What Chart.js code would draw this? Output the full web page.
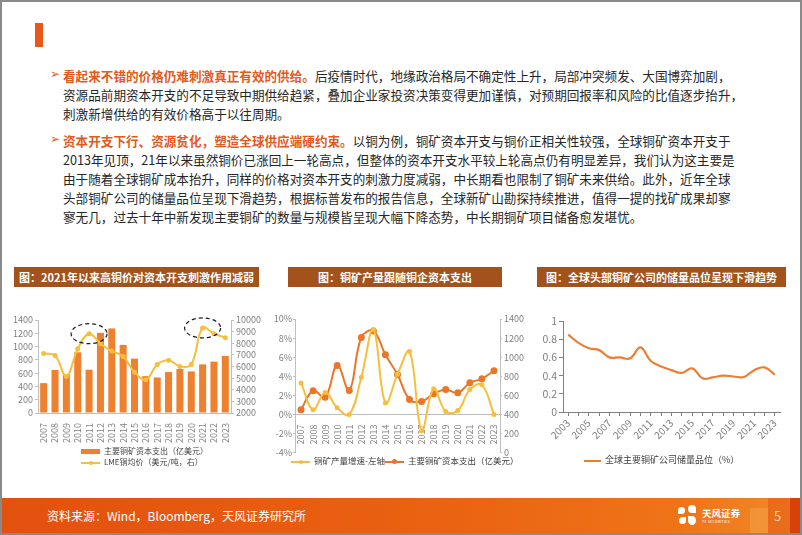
<!DOCTYPE html>
<html>
<head>
<meta charset="utf-8">
<script src="https://cdn.jsdelivr.net/npm/chart.js@4"></script>
<style>
  html, body { margin: 0; padding: 0; background: #fff; }
  body { width: 802px; height: 535px; position: relative; overflow: hidden;
         font-family: "Noto Sans CJK SC", "Noto Sans", sans-serif; }
  .frame { position: absolute; left: 0; top: 0; width: 798px; height: 531px; border: 2px solid #8a8a8a; }
  .accent { position: absolute; left: 35px; top: 23px; width: 8px; height: 24px; background: #E8581A; }
  .para { position: absolute; left: 63px; font-size: 12.6px; line-height: 19px; color: #262626; white-space: nowrap; }
  .para b { color: #E25A1C; font-weight: 700; }
  .bullet { position: absolute; left: -13px; top: -1px; color: #E8601C; font-size: 12px; font-family: "DejaVu Sans", sans-serif; }
  .tbar { position: absolute; top: 267px; height: 20px; background: #A2521A; color: #fff;
          font-size: 11px; font-weight: 700; line-height: 20px; text-align: center; }
  canvas { position: absolute; }
  .lg { position: absolute; font-size: 8px; color: #404040; white-space: nowrap; line-height: 11px; }
  .lg i { display: inline-block; vertical-align: middle; position: relative; margin-right: 4px; }
  .footer { position: absolute; left: 2px; top: 498px; width: 798px; height: 35px;
            background: linear-gradient(90deg, #E4500E 0%, #EA6212 55%, #EF7418 85%, #F08A2A 100%); }
  .src { position: absolute; left: 45px; top: 9px; font-size: 12px; color: #fff; }
  .logo { position: absolute; left: 700px; top: 8px; color: #fff; font-size: 9.5px; font-weight: 700; }
  .logo small { display: block; font-size: 3.5px; font-weight: 400; letter-spacing: 0.3px; margin-top: -1px; }
  .flower { position: absolute; left: 676px; top: 7px; width: 20px; height: 22px; }
  .flower span { position: absolute; background: #fff; border-radius: 50% 50% 50% 0; }
  .sq1 { position: absolute; left: 748px; top: 10px; width: 18px; height: 25px; background: #F29A3E; opacity: .7; }
  .sq2 { position: absolute; left: 766px; top: 0; width: 22px; height: 35px; background: #E4520E; opacity: .5; }
  .sq3 { position: absolute; left: 788px; top: 0; width: 10px; height: 35px; background: #D8420A; }
  .pg { position: absolute; left: 772px; top: 8px; font-size: 13px; color: #FBD3A8; }
</style>
</head>
<body>
<div class="frame"></div>
<div class="accent"></div>

<div class="para" style="top:66px">
  <span class="bullet">&#x27A2;</span><b>看起来不错的价格仍难刺激真正有效的供给。</b>后疫情时代，地缘政治格局不确定性上升，局部冲突频发、大国博弈加剧，<br>
  资源品前期资本开支的不足导致中期供给趋紧，叠加企业家投资决策变得更加谨慎，对预期回报率和风险的比值逐步抬升，<br>
  刺激新增供给的有效价格高于以往周期。
</div>
<div class="para" style="top:131px">
  <span class="bullet">&#x27A2;</span><b>资本开支下行、资源贫化，塑造全球供应端硬约束。</b>以铜为例，铜矿资本开支与铜价正相关性较强，全球铜矿资本开支于<br>
  2013年见顶，21年以来虽然铜价已涨回上一轮高点，但整体的资本开支水平较上轮高点仍有明显差异，我们认为这主要是<br>
  由于随着全球铜矿成本抬升，同样的价格对资本开支的刺激力度减弱，中长期看也限制了铜矿未来供给。此外，近年全球<br>
  头部铜矿公司的储量品位呈现下滑趋势，根据标普发布的报告信息，全球新矿山勘探持续推进，值得一提的找矿成果却寥<br>
  寥无几，过去十年中新发现主要铜矿的数量与规模皆呈现大幅下降态势，中长期铜矿项目储备愈发堪忧。
</div>

<div class="tbar" style="left:14px;width:245px">图：2021年以来高铜价对资本开支刺激作用减弱</div>
<div class="tbar" style="left:288px;width:214px">图：铜矿产量跟随铜企资本支出</div>
<div class="tbar" style="left:537px;width:249px">图：全球头部铜矿公司的储量品位呈现下滑趋势</div>

<canvas id="c1" width="262" height="135" style="left:10px;top:312px"></canvas>
<canvas id="c2" width="254" height="150" style="left:274px;top:310px"></canvas>
<canvas id="c3" width="250" height="135" style="left:540px;top:312px"></canvas>

<div class="lg" style="left:81px;top:445px"><i style="width:19px;height:5px;background:#EE8130"></i>主要铜矿资本支出（亿美元）</div>
<div class="lg" style="left:81px;top:456px"><i style="width:19px;height:2px;background:#F7BE3C"><i style="position:absolute;left:8px;top:-1px;width:4px;height:4px;border-radius:50%;background:#F7BE3C;margin:0"></i></i>LME铜均价（美元/吨，右）</div>

<div class="lg" style="left:291px;top:455px;font-size:8.5px"><i style="width:19px;height:2px;background:#F7BE3C"><i style="position:absolute;left:8px;top:-1px;width:4px;height:4px;border-radius:50%;background:#F7BE3C;margin:0"></i></i>铜矿产量增速-左轴</div>
<div class="lg" style="left:385px;top:455px;font-size:8.5px"><i style="width:19px;height:2px;background:#E9762B"><i style="position:absolute;left:7px;top:-2px;width:5px;height:5px;border-radius:50%;background:#E9762B;margin:0"></i></i>主要铜矿资本支出（亿美元）</div>

<div class="lg" style="left:584px;top:454px;font-size:9px"><i style="width:17px;height:2px;background:#ED7D31"></i>全球主要铜矿公司储量品位（%）</div>

<div class="footer">
  <div class="src">资料来源：Wind，Bloomberg，天风证券研究所</div>
  <div class="flower">
    <span style="left:0;top:2px;width:7px;height:7px"></span>
    <span style="left:10px;top:0;width:8px;height:8px;border-radius:50% 50% 0 50%"></span>
    <span style="left:1px;top:12px;width:7px;height:7px;border-radius:50% 0 50% 50%"></span>
    <span style="left:10px;top:11px;width:8px;height:9px;border-radius:0 50% 50% 50%"></span>
  </div>
  <div class="logo">天风证券<small>TF SECURITIES</small></div>
  <div class="sq1"></div><div class="sq2"></div><div class="sq3"></div>
  <div class="pg">5</div>
</div>

<script>
// chart 1: capex bars + LME price
const years1 = ['2007','2008','2009','2010','2011','2012','2013','2014','2015','2016','2017','2018','2019','2020','2021','2022','2023'];
const capex = [450, 648, 580, 914, 652, 1207, 1273, 1025, 818, 556, 535, 616, 662, 626, 732, 773, 859];
const lmePrice = [7118, 6952, 5150, 7535, 8821, 7962, 7332, 6862, 5510, 4867, 6166, 6530, 6010, 6181, 9317, 8822, 8478];
const highlightYears = ['2011', '2021'];

// chart 2: mine output growth (%) vs capex
const growth = [3.3, 0.5, 2.3, 0.7, 0.0, 3.9, 8.9, 1.2, 4.2, 6.6, -1.7, 2.7, 0.3, 0.4, 2.6, 3.1, 0.0];

// chart 3: reserve grade
const gradeYears = ['2003','2004','2005','2006','2007','2008','2009','2010','2011','2012','2013','2014','2015','2016','2017','2018','2019','2020','2021','2022','2023'];
const grade = [0.85, 0.76, 0.70, 0.68, 0.60, 0.60, 0.59, 0.71, 0.56, 0.50, 0.46, 0.43, 0.48, 0.37, 0.38, 0.40, 0.39, 0.385, 0.46, 0.49, 0.41];

Chart.defaults.font.family = '"Noto Sans CJK SC", "Noto Sans", sans-serif';
Chart.defaults.color = '#7f7f7f';
Chart.defaults.animation = false;

var axisGray = '#bfbfbf';
function fixW(w) { return function(s) { s.width = w; }; }
function fixH(h) { return function(s) { s.height = h; }; }
function plain(v) { return String(v); }

var peakRings = {
  id: 'peakRings',
  afterDatasetsDraw: function(chart) {
    var ctx = chart.ctx;
    ctx.save();
    ctx.setLineDash([4, 3]);
    ctx.strokeStyle = '#1a1a1a';
    ctx.lineWidth = 1.2;
    highlightYears.forEach(function(yr) {
      var i = years1.indexOf(yr);
      var x = chart.scales.x.getPixelForValue(i);
      var y = chart.scales.y1.getPixelForValue(lmePrice[i]);
      ctx.beginPath();
      ctx.ellipse(x, y, 18, 10, 0, 0, Math.PI * 2);
      ctx.stroke();
    });
    ctx.restore();
  }
};

new Chart(document.getElementById('c1'), {
  type: 'bar',
  data: {
    labels: years1,
    datasets: [
      {
        type: 'line', data: lmePrice, yAxisID: 'y1', order: 0,
        borderColor: '#F7BE3C', backgroundColor: '#F7BE3C', borderWidth: 2,
        pointRadius: 1.5, tension: 0.4
      },
      {
        data: capex, yAxisID: 'y', order: 1,
        backgroundColor: '#EE8130', categoryPercentage: 1, barPercentage: 0.62
      }
    ]
  },
  options: {
    responsive: false,
    maintainAspectRatio: false,
    layout: { padding: { top: 8, left: 0, right: 0, bottom: 0 } },
    plugins: { legend: { display: false }, tooltip: { enabled: false } },
    scales: {
      x: {
        afterFit: fixH(34),
        grid: { display: false },
        border: { color: axisGray },
        ticks: { font: { size: 9 }, minRotation: 90, maxRotation: 90, autoSkip: false, padding: 2 }
      },
      y: {
        position: 'left', min: 0, max: 1400,
        afterFit: fixW(28),
        grid: { drawOnChartArea: false, tickLength: 3, color: axisGray },
        border: { color: axisGray },
        ticks: { stepSize: 200, autoSkip: false, font: { size: 9 }, padding: 2, callback: plain }
      },
      y1: {
        position: 'right', min: 2000, max: 10000,
        afterFit: fixW(41),
        grid: { drawOnChartArea: false, tickLength: 3, color: axisGray },
        border: { color: axisGray },
        ticks: { stepSize: 1000, autoSkip: false, font: { size: 9 }, padding: 2, callback: plain }
      }
    }
  },
  plugins: [peakRings]
});

new Chart(document.getElementById('c2'), {
  type: 'line',
  data: {
    labels: years1,
    datasets: [
      {
        data: growth, yAxisID: 'y',
        borderColor: '#F7BE3C', backgroundColor: '#F7BE3C', borderWidth: 2,
        pointRadius: 1.5, tension: 0.4
      },
      {
        data: capex, yAxisID: 'y1',
        borderColor: '#E9762B', backgroundColor: '#E9762B', borderWidth: 2,
        pointRadius: 2.5, tension: 0.4
      }
    ]
  },
  options: {
    responsive: false,
    maintainAspectRatio: false,
    layout: { padding: { top: 9, bottom: 2 } },
    plugins: { legend: { display: false }, tooltip: { enabled: false } },
    scales: {
      x: {
        position: { y: 0 }, offset: true,
        grid: { display: false },
        border: { color: axisGray },
        ticks: { font: { size: 9 }, minRotation: 90, maxRotation: 90, autoSkip: false, padding: 2 }
      },
      y: {
        position: 'left', min: -4, max: 10,
        afterFit: fixW(21),
        grid: { drawOnChartArea: false, tickLength: 2, color: axisGray },
        border: { color: axisGray },
        ticks: { stepSize: 2, autoSkip: false, font: { size: 9 }, padding: 1, callback: function(v) { return v + '%'; } }
      },
      y1: {
        position: 'right', min: 0, max: 1400,
        afterFit: fixW(28),
        grid: { drawOnChartArea: false, tickLength: 2, color: axisGray },
        border: { color: axisGray },
        ticks: { stepSize: 200, autoSkip: false, font: { size: 9 }, padding: 2, callback: plain }
      }
    }
  }
});

new Chart(document.getElementById('c3'), {
  type: 'line',
  data: {
    labels: gradeYears,
    datasets: [{
      data: grade,
      borderColor: '#ED7D31', backgroundColor: '#ED7D31', borderWidth: 2.2,
      pointRadius: 0, tension: 0.4
    }]
  },
  options: {
    responsive: false,
    maintainAspectRatio: false,
    layout: { padding: { top: 9, right: 10 } },
    plugins: { legend: { display: false }, tooltip: { enabled: false } },
    scales: {
      x: {
        offset: true,
        afterFit: fixH(35),
        grid: { drawOnChartArea: false, tickLength: 4, color: '#808080', offset: false },
        border: { color: '#808080' },
        ticks: {
          font: { size: 10 }, minRotation: 45, maxRotation: 45, autoSkip: false, padding: 1,
          callback: function(v, i) { return i % 2 === 0 ? gradeYears[i] : ''; }
        }
      },
      y: {
        min: 0, max: 1,
        afterFit: fixW(23),
        grid: { drawOnChartArea: false, tickLength: 4, color: '#808080' },
        border: { color: '#808080' },
        ticks: { stepSize: 0.2, autoSkip: false, font: { size: 10.5 }, padding: 2, callback: plain }
      }
    }
  }
});
</script>
</body>
</html>
